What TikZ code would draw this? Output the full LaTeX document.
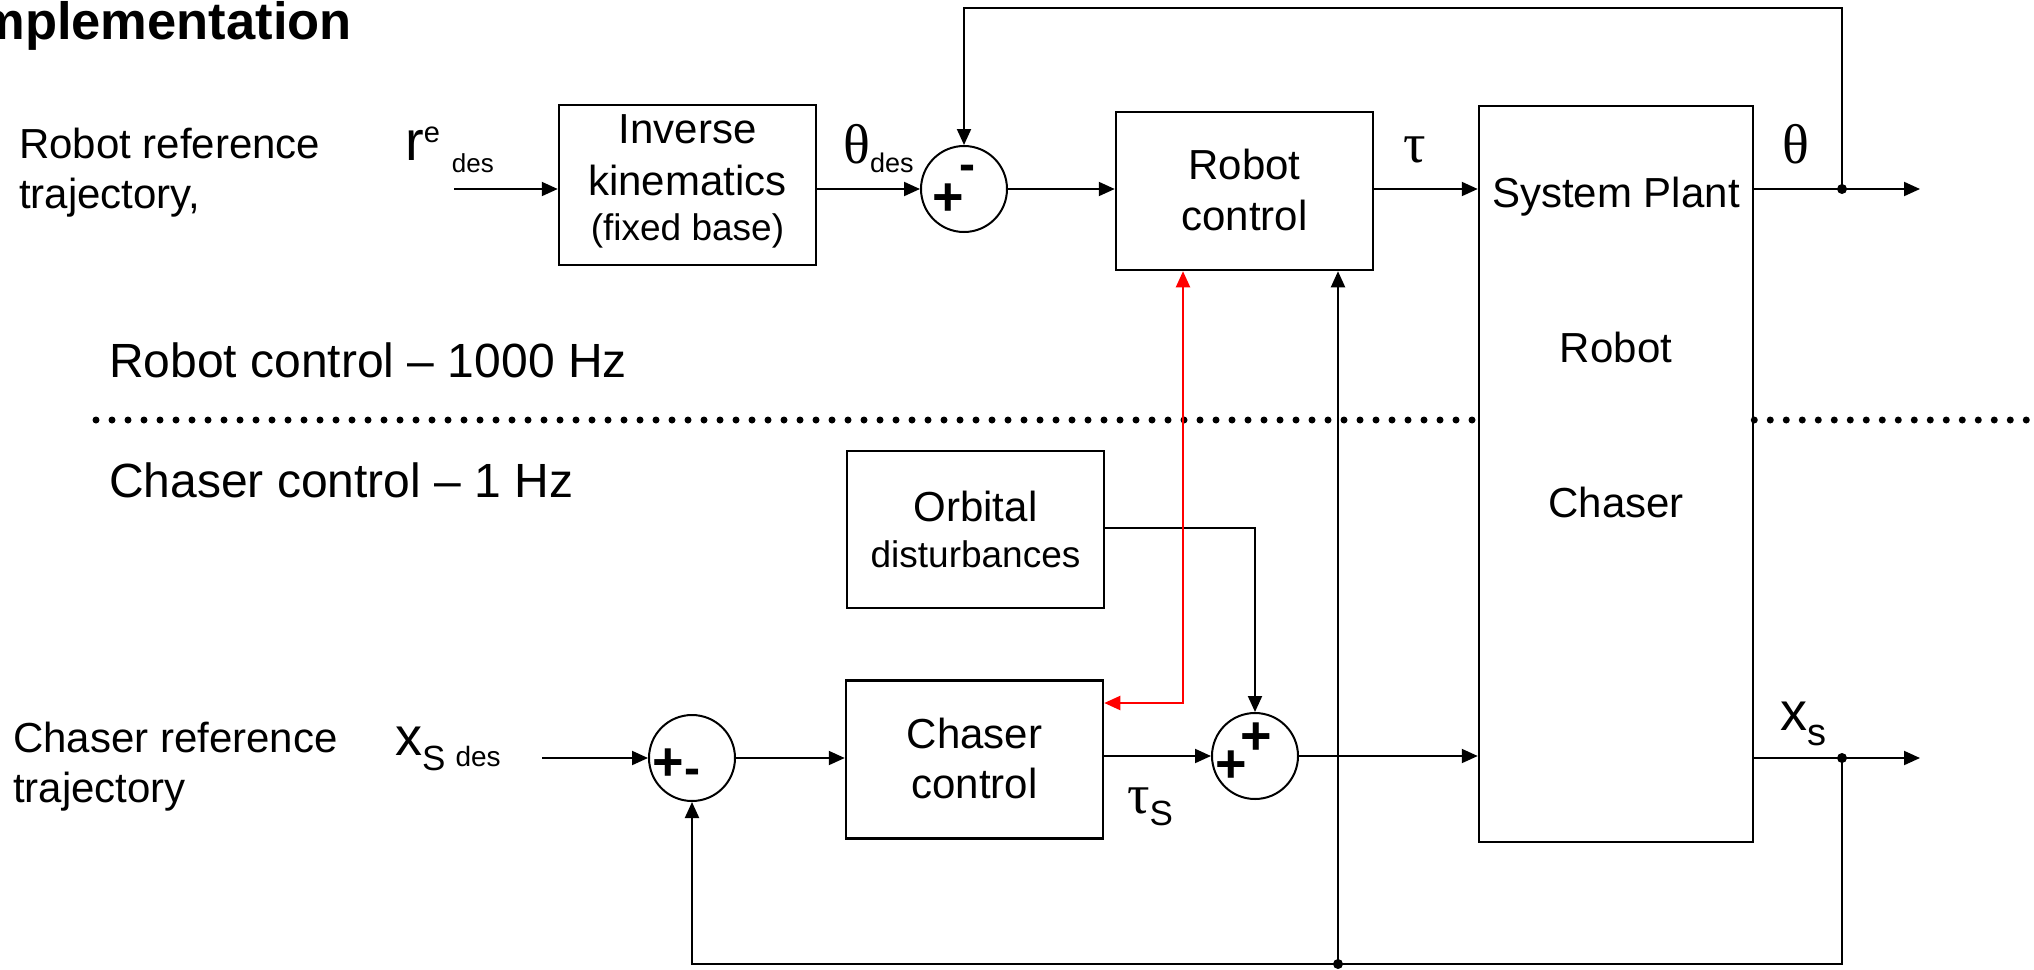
\documentclass[tikz,border=0pt]{standalone}
\usepackage{fontspec}
\setmainfont{Liberation Sans}
\newfontfamily\grfont{Liberation Serif}
\usetikzlibrary{arrows.meta}
\newcommand\fsz[1]{\fontsize{#1}{#1}\selectfont}
\begin{document}
\begin{tikzpicture}[x=1pt,y=-1pt,
  box/.style={draw, line width=2.5pt, inner sep=0pt},
  sumj/.style={draw, circle, line width=2pt, minimum size=86pt, inner sep=0pt},
  arr/.style={-{Triangle[length=16pt,width=14pt]}, line width=2pt},
  redarr/.style={{Triangle[length=16pt,width=14pt]}-{Triangle[length=16pt,width=14pt]}, line width=2pt, draw=red},
  lbl/.style={inner sep=0pt, anchor=base west, font=\fsz{42}},
  ctr/.style={inner sep=0pt, anchor=base, font=\fsz{42}},
  sgn/.style={inner sep=0pt, anchor=base west, font=\bfseries\fsz{54}},
  dotline/.style={line width=7pt, line cap=round, dash pattern=on 0pt off 16pt},
  jdot/.style={circle, fill, inner sep=0pt, minimum size=10pt}
]
\useasboundingbox (0,0) rectangle (2034,969);

% title (cut at the left edge, as in the reference)
\begin{scope}
\clip (0,0) rectangle (2034,969);
\node[anchor=base east, inner sep=0pt, font=\bfseries\fsz{52.5}] (title) at (352,39) {Implementation};
\end{scope}

% blocks
\node[box, minimum width=257pt, minimum height=160pt] (ik) at (687.5,185) {};
\node[box, minimum width=257pt, minimum height=158pt] (rc) at (1244.5,191) {};
\node[box, minimum width=274pt, minimum height=736pt] (plant) at (1616,474) {};
\node[box, minimum width=257pt, minimum height=157pt] (od) at (975.5,529.5) {};
\node[box, minimum width=257pt, minimum height=158pt] (cc) at (974.5,759.5) {};
\node[sumj] (s1) at (964,189) {};
\node[sumj] (s2) at (1255,756) {};
\node[sumj] (s3) at (692,758) {};

% block texts
\node[ctr] (ik1) at (687.5,143) {Inverse};
\node[ctr] (ik2) at (687.5,195) {kinematics};
\node[ctr, font=\fsz{37}] (ik3) at (687.5,240) {(fixed base)};
\node[ctr] (rc1) at (1244.5,179) {Robot};
\node[ctr] (rc2) at (1244.5,230) {control};
\node[ctr] (pl1) at (1616,207) {System Plant};
\node[ctr] (pl2) at (1616,362) {Robot};
\node[ctr] (pl3) at (1616,517) {Chaser};
\node[ctr] (od1) at (975.5,521) {Orbital};
\node[ctr, font=\fsz{37}] (od2) at (975.5,567) {disturbances};
\node[ctr] (cc1) at (974.5,748) {Chaser};
\node[ctr] (cc2) at (974.5,798) {control};

% side texts
\node[lbl] (t1) at (19,158) {Robot reference};
\node[lbl] (t2) at (19,208) {trajectory,};
\node[lbl] (t3) at (13,752) {Chaser reference};
\node[lbl] (t4) at (13,802) {trajectory};
\node[lbl, font=\fsz{48}] (t5) at (109,377) {Robot control – 1000 Hz};
\node[lbl, font=\fsz{48}] (t6) at (109,497) {Chaser control – 1 Hz};

% signal labels
\node[lbl, font=\fsz{56}] (rlab) at (405,160) {r\raisebox{18pt}{\fsz{29}e}\hspace{12pt}\raisebox{-12pt}{\fsz{26}des}};
\node[lbl, font=\fsz{54}] (xlab) at (395,755) {x\raisebox{-15pt}{\fsz{35}S}\hspace{10pt}\raisebox{-11pt}{\fsz{28}des}};
\node[lbl, font=\fsz{56}] (thdes) at (843,163) {{\grfont θ}\raisebox{-9pt}{\fsz{27}des}};
\node[lbl, font=\fsz{56}] (tau) at (1403,162) {\grfont τ};
\node[lbl, font=\fsz{56}] (theta) at (1782,163) {\grfont θ};
\node[lbl, font=\fsz{56}] (taus) at (1127,813) {{\grfont τ}\raisebox{-12pt}{\fsz{35}S}};
\node[lbl, font=\fsz{54}] (xs) at (1780,730) {x\raisebox{-15pt}{\fsz{38}s}};

% signs in the summing junctions
\node[sgn] (s1sg) at (932.2,215) {+\hspace{-4.8pt}\raisebox{35pt}{\fsz{48}-}};
\node[sgn] (s2sg) at (1215.2,782) {+\hspace{-6.6pt}\raisebox{28pt}{+}};
\node[sgn] (s3sg) at (652.5,780) {+\raisebox{-4pt}{\fsz{48}-}};

% rate separator
\coordinate (dl) at (96,420);
\coordinate (dr) at (2040,420);
\draw[dotline] (dl) -- (plant.west |- dl);
\draw[dotline] (plant.east |- dr) -- (dr);

% coordinates for free ends and branch points
\coordinate (rin) at (454,189);
\coordinate (xin) at (542,758);
\coordinate (thout) at (1920,189);
\coordinate (thdot) at (1842,189);
\coordinate (fbtop) at (1842,8);
\coordinate (xsout) at (1920,758);
\coordinate (xsdot) at (1842,758);
\coordinate (fbbot) at (1842,964);
\coordinate (bdot) at (1338,964);
\coordinate (odc) at (1255,528);
\coordinate (redx) at (1183,703);

% upper loop
\draw[arr] (rin) -- (ik.west |- rin);
\draw[arr] (ik.east |- s1.west) -- (s1.west);
\draw[arr] (s1.east) -- (rc.west |- s1.east);
\draw[arr] (rc.east |- thout) -- (plant.west |- thout);
\draw[arr] (plant.east |- thout) -- (thout);
\draw[arr] (thdot) -- (fbtop) -- (s1.north |- fbtop) -- (s1.north);

% lower loop
\draw[arr] (xin) -- (s3.west);
\draw[arr] (s3.east) -- (cc.west |- s3.east);
\draw[arr] (cc.east |- s2.west) -- (s2.west);
\draw[arr] (s2.east) -- (plant.west |- s2.east);
\draw[arr] (od.east |- odc) -- (odc) -- (s2.north);
\draw[arr] (plant.east |- xsout) -- (xsout);
\draw[arr] (xsdot) -- (fbbot) -- (s3.south |- fbbot) -- (s3.south);
\draw[arr] (bdot) -- (bdot |- rc.south);

% coupling between the two controllers
\draw[redarr] (rc.south -| redx) -- (redx) -- (cc.east |- redx);

% junction dots
\node[jdot] (d1) at (thdot) {};
\node[jdot] (d2) at (xsdot) {};
\node[jdot] (d3) at (bdot) {};
\end{tikzpicture}
\end{document}
